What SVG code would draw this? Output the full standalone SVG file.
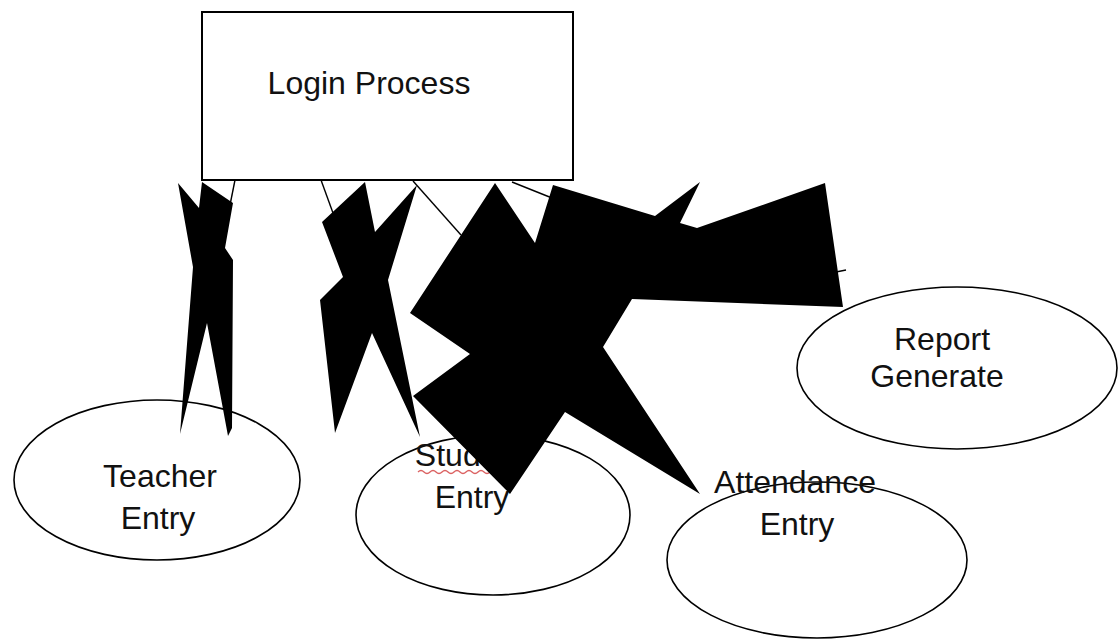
<svg xmlns="http://www.w3.org/2000/svg" width="1118" height="641" viewBox="0 0 1118 641">
<style>
.node{fill:#fff;stroke:#000;stroke-width:1.6}
.box{fill:#fff;stroke:#000;stroke-width:2}
.lbl{font-family:"Liberation Sans",Arial,sans-serif;font-size:32px;fill:#111;text-anchor:middle}
.ln{stroke:#000;stroke-width:1.4;fill:none}
.head{fill:#000;stroke:none}
</style>
<rect width="1118" height="641" fill="#fff"/>
<g id="login">
<rect class="box" x="202" y="12" width="371" height="168"/>
<text class="lbl" x="369" y="94">Login Process</text>
</g>
<g id="teacher">
<ellipse class="node" cx="157" cy="480" rx="143" ry="80"/>
<text class="lbl" x="160" y="487">Teacher</text>
<text class="lbl" x="158" y="529">Entry</text>
</g>
<g id="student">
<ellipse class="node" cx="493" cy="515" rx="137" ry="80"/>
<text class="lbl" x="470" y="466">Student</text>
<path d="M418 472 q3 -3 6 0 t6 0 t6 0 t6 0 t6 0 t6 0 t6 0 t6 0 t6 0 t6 0 t6 0 t6 0 t6 0 t6 0 t6 0 t6 0" fill="none" stroke="#d23b3b" stroke-width="1.3" opacity="0.8"/>
<text class="lbl" x="472" y="508">Entry</text>
</g>
<g id="attendance">
<ellipse class="node" cx="817" cy="560" rx="150" ry="78"/>
<text class="lbl" x="795" y="493">Attendance</text>
<text class="lbl" x="797" y="535">Entry</text>
</g>
<g id="report">
<ellipse class="node" cx="957" cy="368" rx="160" ry="81"/>
<text class="lbl" x="942" y="350">Report</text>
<text class="lbl" x="937" y="387">Generate</text>
</g>
<g id="connectors">
<line class="ln" x1="235" y1="180" x2="230" y2="205"/>
<line class="ln" x1="321" y1="180" x2="333" y2="213"/>
<line class="ln" x1="413" y1="181" x2="461" y2="235"/>
<line class="ln" x1="512" y1="182" x2="552" y2="198"/>
<line class="ln" x1="836" y1="272" x2="846" y2="270"/>
<polygon class="head" points="178,183 199,208 202,182 233,203 225,248 233,260 232,428 228,436 207,323 180,434 193,267"/>
<polygon class="head" points="322,222 365,182 375,232 417,185 388,280 420,437 372,333 335,433 320,300 343,277"/>
<polygon class="head" points="495,183 535,243 553,185 655,216 700,182 680,223 697,228 825,183 843,307 632,299 603,347 700,494 565,412 510,494 413,396 470,354 410,313"/>
</g>
</svg>
